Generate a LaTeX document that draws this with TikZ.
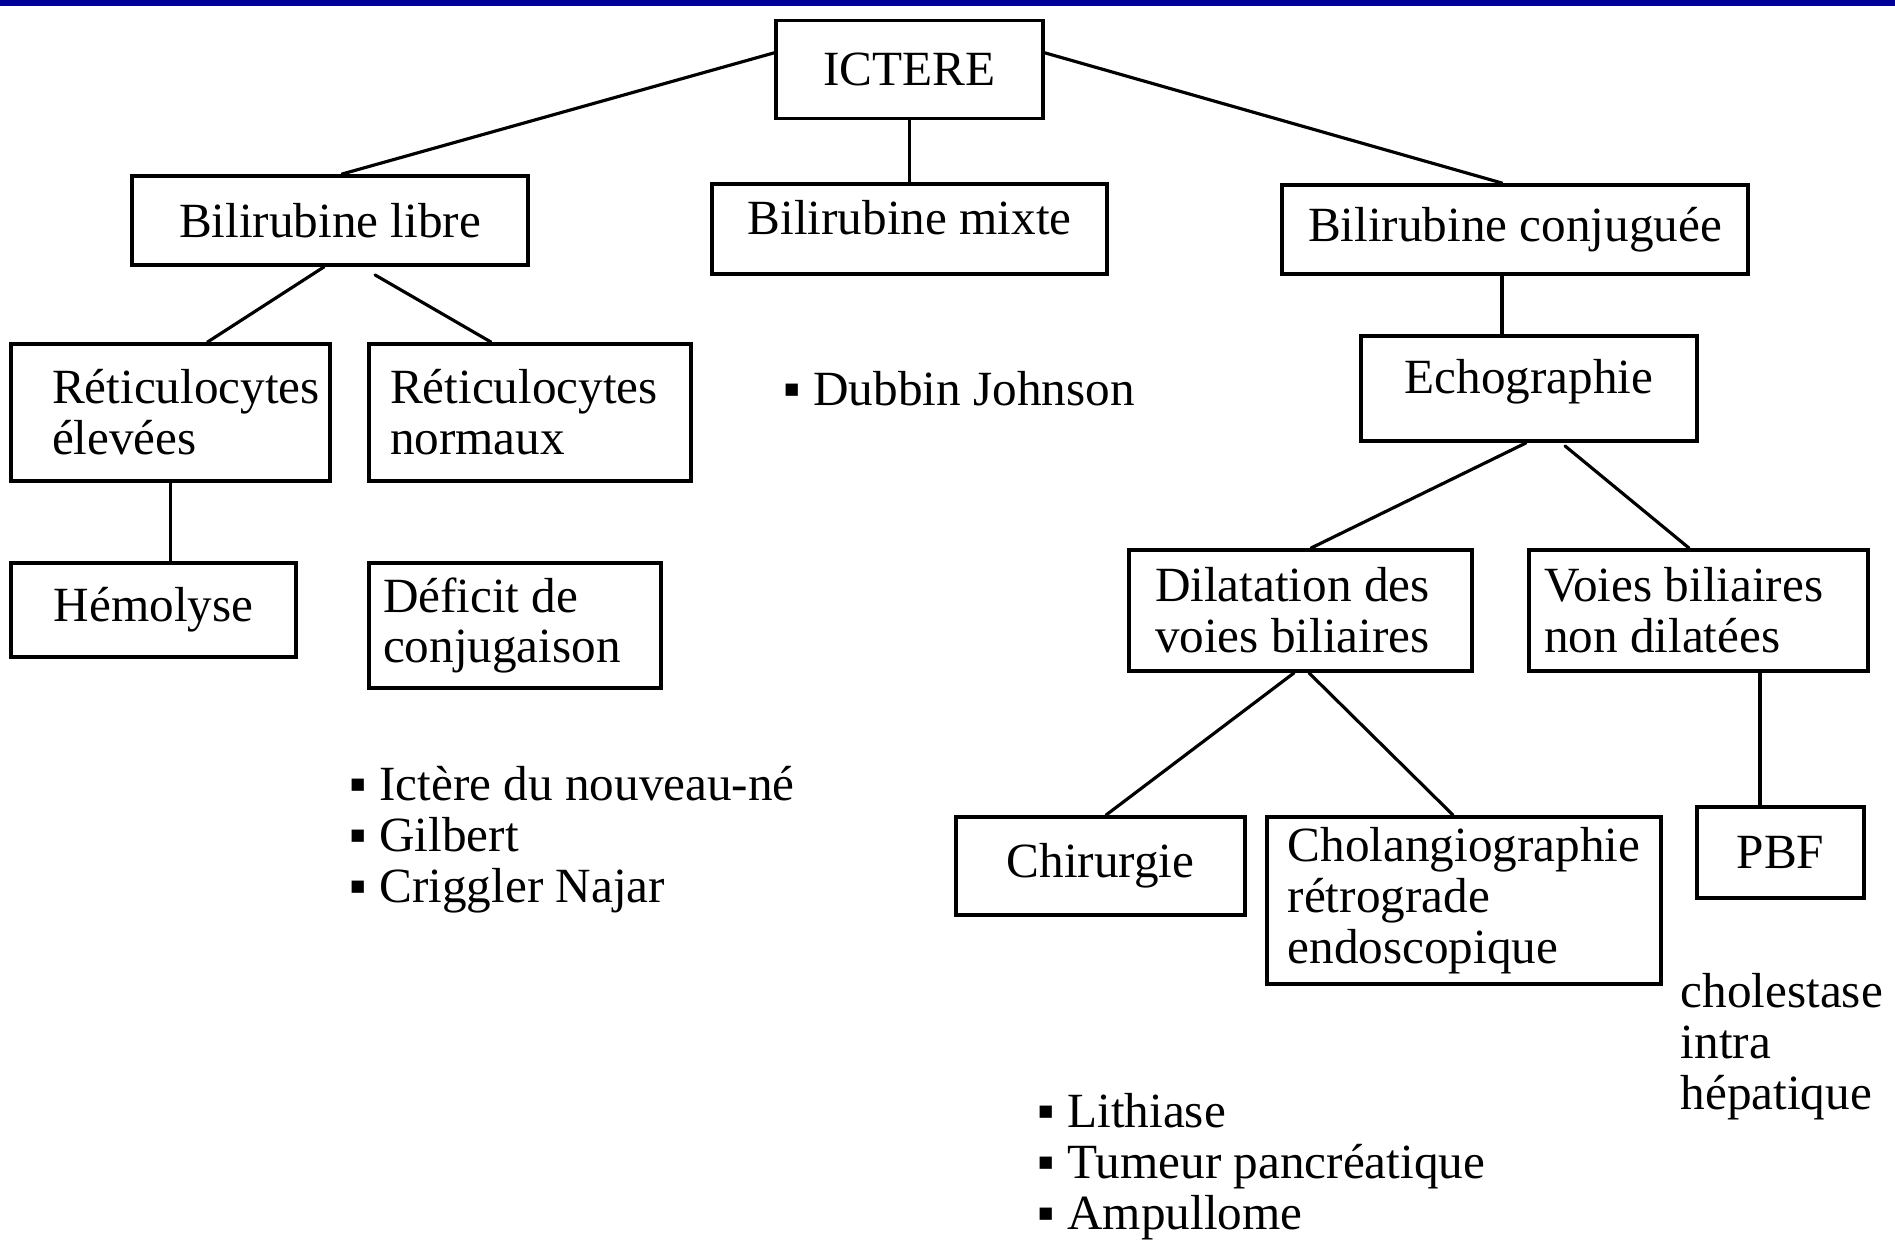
\documentclass[tikz,border=0pt]{standalone}
\usepackage{fontspec}
\setmainfont{Liberation Serif}
\usetikzlibrary{calc}

\definecolor{bandeau}{RGB}{0,0,153}

\tikzset{
  boite/.style={draw, line width=1.1pt, align=flush left, inner sep=0pt, font=\fontsize{14}{14.5}\selectfont},
  liste/.style={anchor=west, align=left, inner sep=0pt, font=\fontsize{14}{14.5}\selectfont},
  trait/.style={line width=0.9pt}
}

\begin{document}
\begin{tikzpicture}[x=0.1mm, y=-0.1mm, line cap=round]

    \useasboundingbox (0,0) rectangle (1895,1253);
    \fill[bandeau] (0,0) rectangle (1895,6);

    % niveau 1
    \node[boite, minimum width=26.7mm, minimum height=9.8mm] (ictere) at (909.5,69.5) {ICTERE};
    \node[boite, minimum width=39.6mm, minimum height=8.9mm] (libre) at (330,220.5) {Bilirubine libre};
    \node[boite, minimum width=39.5mm, minimum height=9.0mm, text depth=6.8pt] (mixte) at (909.5,229) {Bilirubine mixte};
    \node[boite, minimum width=46.6mm, minimum height=8.9mm] (conj) at (1515,229.5) {Bilirubine conjuguée};

    % bilirubine libre
    \node[boite, minimum height=13.7mm, text width=23.7mm, inner xsep=4.1mm] (reti1) at (170.5,412.5) {Réticulocytes\\élevées};
    \node[boite, minimum height=13.7mm, text width=28mm, inner xsep=2.1mm] (reti2) at (530,412.5) {Réticulocytes\\normaux};
    \node[boite, minimum width=28.5mm, minimum height=9.4mm] (hemo) at (153.5,610) {Hémolyse};
    \node[boite, minimum height=12.5mm, text width=26.4mm, inner xsep=1.4mm] (deficit) at (515,625.5) {Déficit de\\conjugaison};

    % bilirubine conjuguee
    \node[boite, minimum width=33.6mm, minimum height=10.5mm, text depth=7pt] (echo) at (1529,388.5) {Echographie};
    \node[boite, minimum height=12.1mm, text width=29.1mm, inner xsep=2.6mm] (dilat) at (1300.5,610.5) {Dilatation des\\voies biliaires};
    \node[boite, minimum height=12.1mm, text width=30.9mm, inner xsep=1.5mm] (voies) at (1698.5,610.5) {Voies biliaires\\non dilatées};
    \node[boite, minimum width=28.9mm, minimum height=9.8mm] (chir) at (1100.5,866) {Chirurgie};
    \node[boite, minimum width=39.4mm, minimum height=16.7mm] (cholang) at (1464,900.5) {Cholangiographie\\rétrograde\\endoscopique};
    \node[boite, minimum width=16.7mm, minimum height=9.1mm] (pbf) at (1780.5,852.5) {PBF};

    % listes
    \node[liste] (dubbin) at (783,389) {▪ Dubbin Johnson};
    \node[liste] (causes1) at (349,840) {▪ Ictère du nouveau-né\\▪ Gilbert\\▪ Criggler Najar};
    \node[liste] (causes2) at (1037,1167) {▪ Lithiase\\▪ Tumeur pancréatique\\▪ Ampullome};
    \node[liste] (cholestase) at (1680,1047) {cholestase\\intra\\hépatique};

    % traits
    \draw[trait] (ictere.173) -- ($(libre.north)+(12,0)$);
    \draw[trait] (ictere.7) -- ($(conj.north)+(-13,0)$);
    \draw[trait] (ictere.south) -- (mixte.north);

    \draw[trait] ($(libre.south)+(-6,0)$) -- ($(reti1.north)+(37,0)$);
    \draw[trait] ($(libre.south)+(45,8)$) -- ($(reti2.north)+(-39,0)$);
    \draw[trait] (reti1.south) -- (reti1.south |- hemo.north);

    \coordinate (c1) at ($(conj.south)+(-13,0)$);
    \draw[trait] (c1) -- (c1 |- echo.north);
    \draw[trait] ($(echo.south)+(-3,0)$) -- ($(dilat.north)+(10.5,0)$);
    \draw[trait] ($(echo.south)+(36,3)$) -- ($(voies.north)+(-9.5,0)$);
    \draw[trait] ($(dilat.south)+(-6.5,0)$) -- ($(chir.north)+(5.5,0)$);
    \draw[trait] ($(dilat.south)+(8.5,0)$) -- ($(cholang.north)+(-11,0)$);
    \coordinate (c2) at ($(voies.south)+(61.5,0)$);
    \draw[trait] (c2) -- (c2 |- pbf.north);

\end{tikzpicture}
\end{document}
